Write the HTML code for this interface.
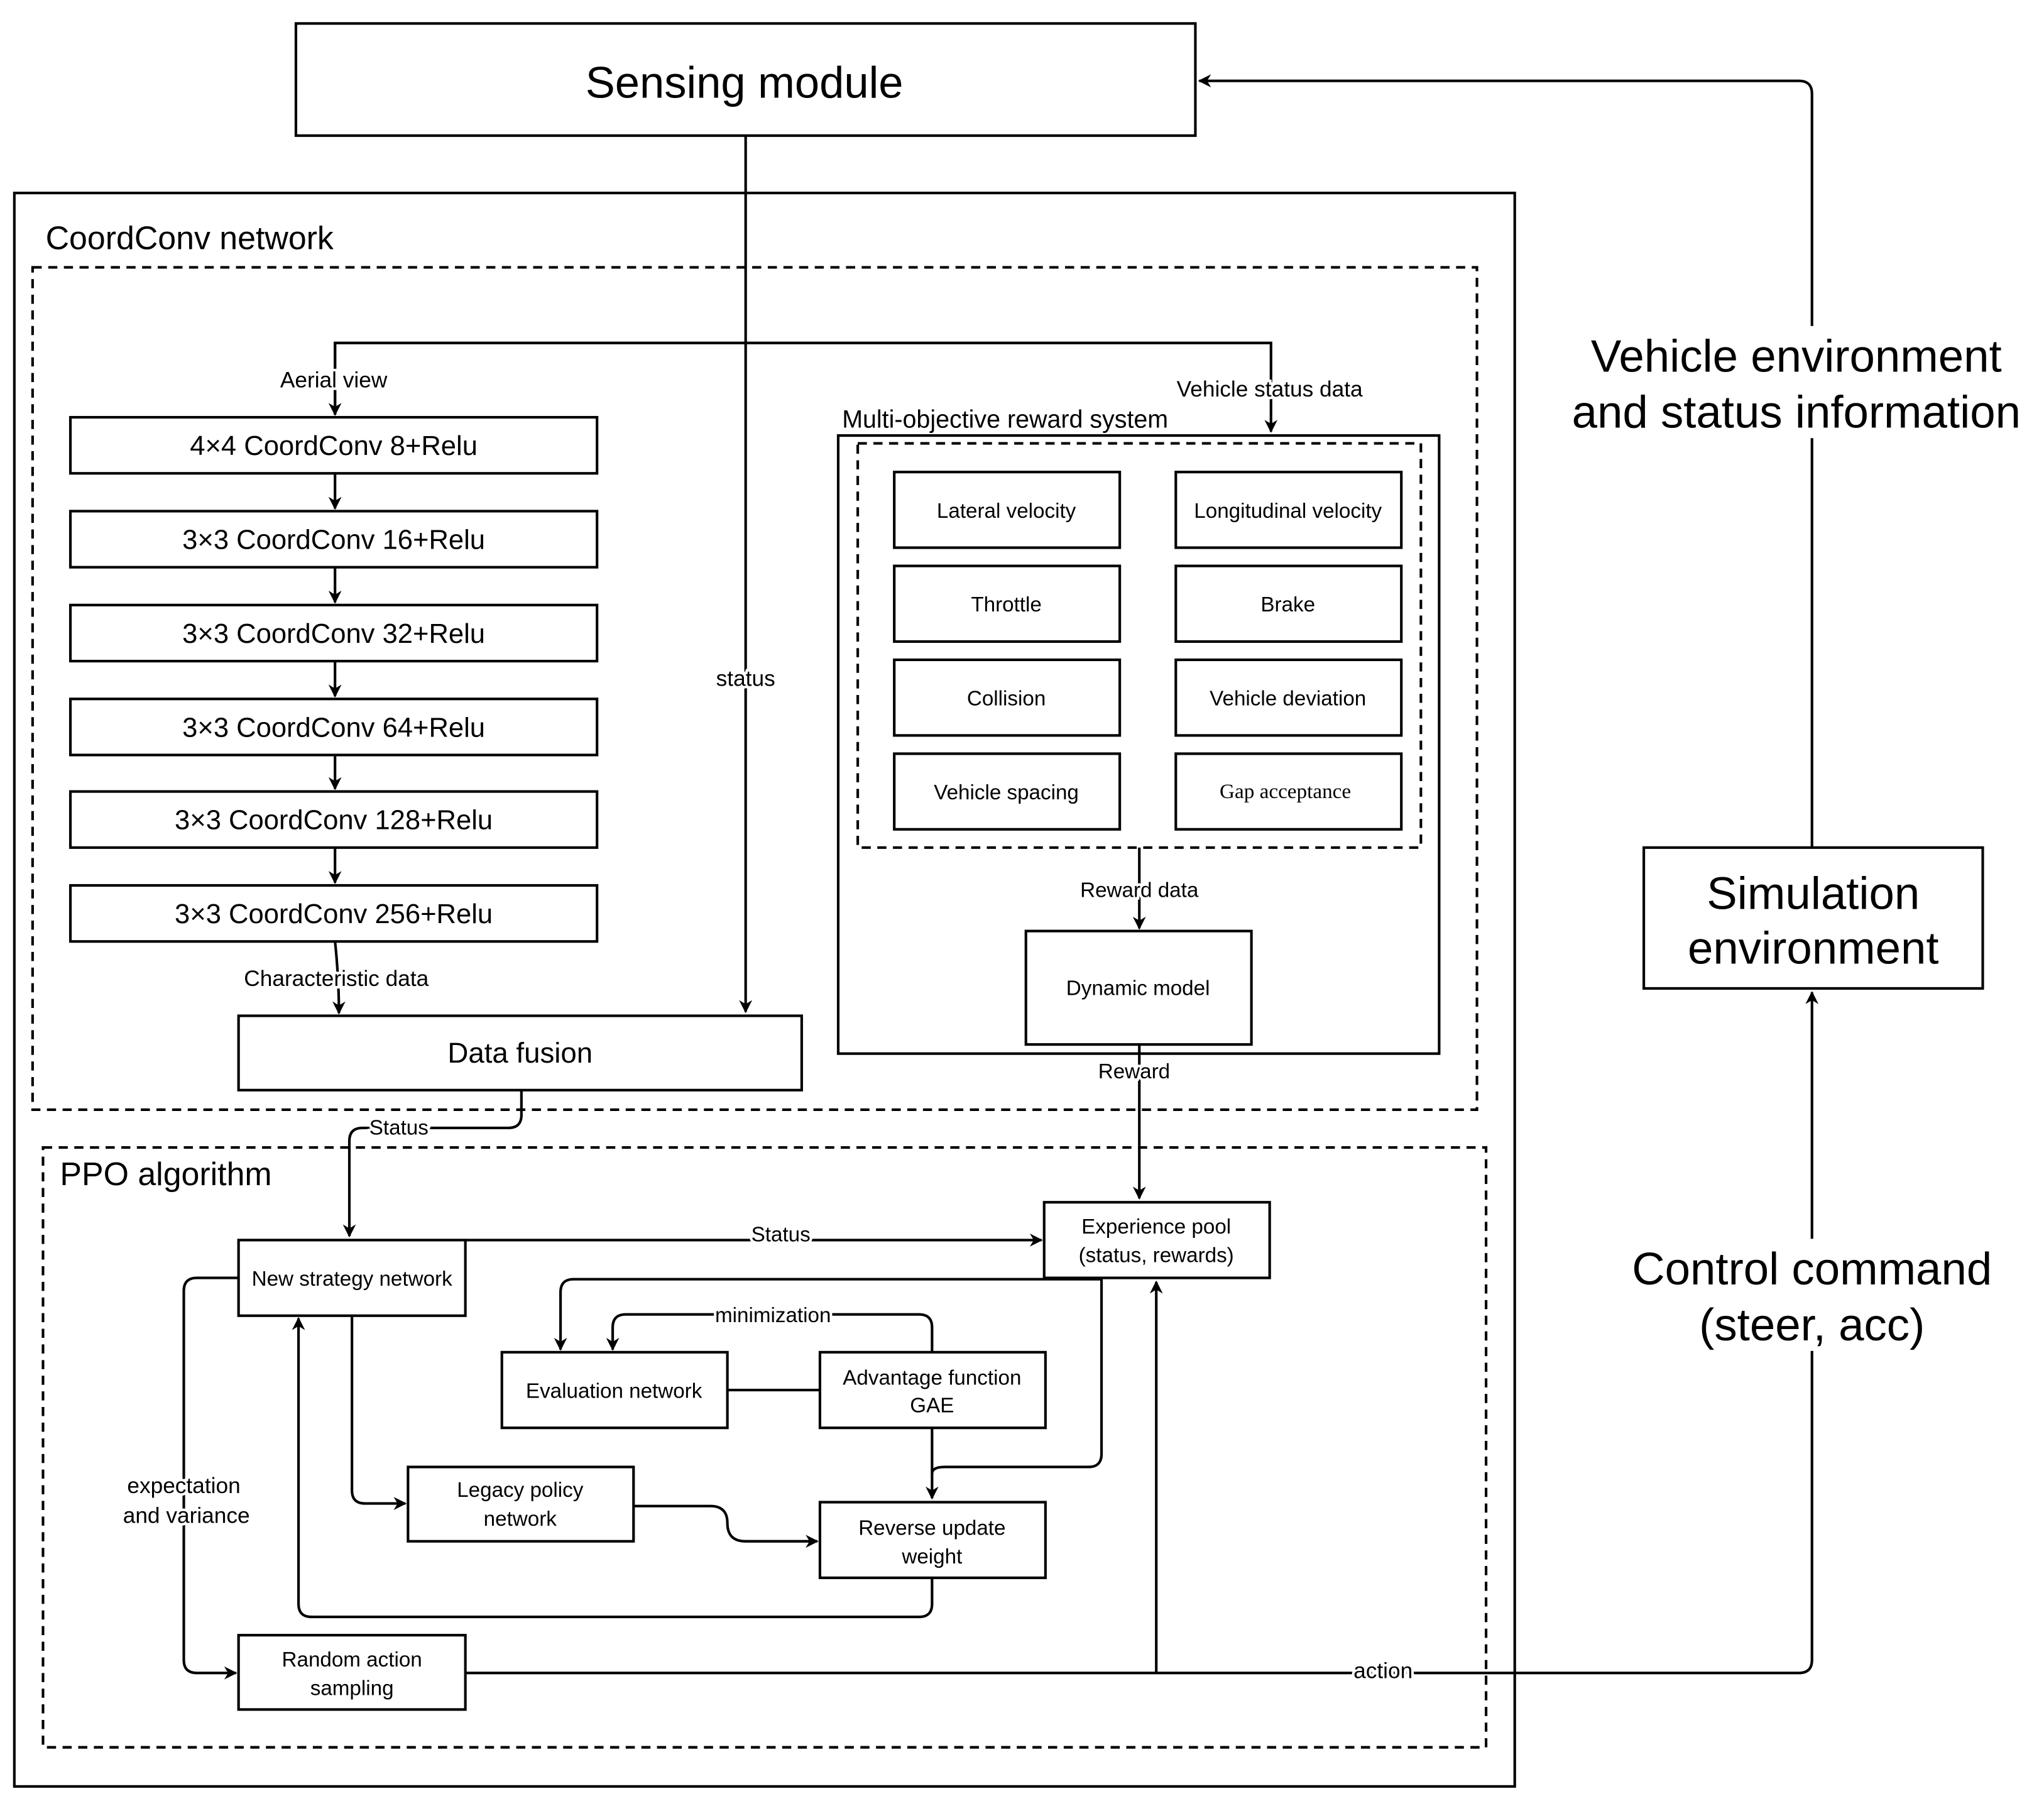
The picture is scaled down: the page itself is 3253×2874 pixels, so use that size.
<!DOCTYPE html>
<html><head><meta charset="utf-8"><style>
html,body{margin:0;padding:0;background:#fff}
svg{display:block}
text{font-family:"Liberation Sans",sans-serif;fill:#000}
.l{paint-order:stroke;stroke:#fff;stroke-width:4px}
</style></head><body>
<svg width="3253" height="2874" viewBox="0 0 1568 1385" preserveAspectRatio="none" xmlns="http://www.w3.org/2000/svg">
<defs><marker id="a" markerWidth="10" markerHeight="10" refX="9" refY="5" orient="auto" markerUnits="userSpaceOnUse"><path d="M0,0 L10,5 L0,10 L3,5 Z" fill="#000"/></marker></defs>
<g fill="none" stroke="#000" stroke-width="2">
<rect x="227" y="18" width="690" height="86"/>
<rect x="11" y="148" width="1151" height="1222"/>
<rect x="25" y="205" width="1108" height="646" stroke-dasharray="7,5"/>
<rect x="33" y="880" width="1107" height="460" stroke-dasharray="7,5"/>
<rect x="54" y="320" width="404" height="43"/>
<rect x="54" y="392" width="404" height="43"/>
<rect x="54" y="464" width="404" height="43"/>
<rect x="54" y="536" width="404" height="43"/>
<rect x="54" y="607" width="404" height="43"/>
<rect x="54" y="679" width="404" height="43"/>
<rect x="183" y="779" width="432" height="57"/>
<rect x="643" y="334" width="461" height="474"/>
<rect x="658" y="340" width="432" height="310" stroke-dasharray="7,5"/>
<rect x="686" y="362" width="173" height="58"/><rect x="902" y="362" width="173" height="58"/>
<rect x="686" y="434" width="173" height="58"/><rect x="902" y="434" width="173" height="58"/>
<rect x="686" y="506" width="173" height="58"/><rect x="902" y="506" width="173" height="58"/>
<rect x="686" y="578" width="173" height="58"/><rect x="902" y="578" width="173" height="58"/>
<rect x="787" y="714" width="173" height="87"/>
<rect x="183" y="951" width="174" height="58"/>
<rect x="801" y="922" width="173" height="58"/>
<rect x="385" y="1037" width="173" height="58"/>
<rect x="629" y="1037" width="173" height="58"/>
<rect x="313" y="1125" width="173" height="57"/>
<rect x="629" y="1152" width="173" height="58"/>
<rect x="183" y="1254" width="174" height="57"/>
<rect x="1261" y="650" width="260" height="108"/>
<path d="M572,104 V776" marker-end="url(#a)"/>
<path d="M257,318 V263 H975 V331" marker-end="url(#a)"/>
<path d="M257,263 V318" marker-end="url(#a)"/>
<path d="M257,363 V390" marker-end="url(#a)"/>
<path d="M257,435 V462" marker-end="url(#a)"/>
<path d="M257,507 V534" marker-end="url(#a)"/>
<path d="M257,579 V605" marker-end="url(#a)"/>
<path d="M257,650 V677" marker-end="url(#a)"/>
<path d="M257,722 Q260,750 260,777" marker-end="url(#a)"/>
<path d="M874,650 V712" marker-end="url(#a)"/>
<path d="M874,801 V919" marker-end="url(#a)"/>
<path d="M400,836 V855 Q400,865 390,865 H278 Q268,865 268,875 V948" marker-end="url(#a)"/>
<path d="M357,951 H799" marker-end="url(#a)"/>
<path d="M845,980 V1115 Q845,1125 835,1125 H725 Q715,1125 715,1130"/>
<path d="M845,981 H440 Q430,981 430,991 V1035" marker-end="url(#a)"/>
<path d="M715,1037 V1018 Q715,1008 705,1008 H480 Q470,1008 470,1018 V1035" marker-end="url(#a)"/>
<path d="M558,1066 H629"/>
<path d="M715,1095 V1149" marker-end="url(#a)"/>
<path d="M270,1009 V1143 Q270,1153 280,1153 H311" marker-end="url(#a)"/>
<path d="M486,1155 H545 Q558,1155 558,1168 Q558,1182 572,1182 H627" marker-end="url(#a)"/>
<path d="M715,1210 V1230 Q715,1240 705,1240 H239 Q229,1240 229,1230 V1011" marker-end="url(#a)"/>
<path d="M183,980 H151 Q141,980 141,990 V1273 Q141,1283 151,1283 H181" marker-end="url(#a)"/>
<path d="M357,1283 H1380 Q1390,1283 1390,1273 V761" marker-end="url(#a)"/>
<path d="M887,1283 V983" marker-end="url(#a)"/>
<path d="M1390,650 V72 Q1390,62 1380,62 H920" marker-end="url(#a)"/>
</g>
<rect x="1205" y="250" width="350" height="86" fill="#fff"/>
<rect x="1250" y="950" width="285" height="86" fill="#fff"/>
<g text-anchor="middle">
<text x="571" y="75" font-size="34">Sensing module</text>
<text x="256" y="349" font-size="21">4×4 CoordConv 8+Relu</text>
<text x="256" y="421" font-size="21">3×3 CoordConv 16+Relu</text>
<text x="256" y="493" font-size="21">3×3 CoordConv 32+Relu</text>
<text x="256" y="565" font-size="21">3×3 CoordConv 64+Relu</text>
<text x="256" y="636" font-size="21">3×3 CoordConv 128+Relu</text>
<text x="256" y="708" font-size="21">3×3 CoordConv 256+Relu</text>
<text x="399" y="815" font-size="22">Data fusion</text>
<text class="l" x="256" y="297" font-size="17">Aerial view</text>
<text class="l" x="974" y="304" font-size="17">Vehicle status data</text>
<text class="l" x="572" y="526" font-size="17">status</text>
<text class="l" x="258" y="756" font-size="17">Characteristic data</text>
<text x="772" y="397" font-size="16">Lateral velocity</text>
<text x="988" y="397" font-size="16">Longitudinal velocity</text>
<text x="772" y="469" font-size="16">Throttle</text>
<text x="988" y="469" font-size="16">Brake</text>
<text x="772" y="541" font-size="16">Collision</text>
<text x="988" y="541" font-size="16">Vehicle deviation</text>
<text x="772" y="613" font-size="16">Vehicle spacing</text>
<text x="986" y="612" font-size="16" style="font-family:'Liberation Serif',serif">Gap acceptance</text>
<text class="l" x="874" y="688" font-size="16">Reward data</text>
<text x="873" y="763" font-size="16">Dynamic model</text>
<text class="l" x="870" y="827" font-size="16">Reward</text>
<text class="l" x="306" y="870" font-size="16">Status</text>
<text class="l" x="599" y="952" font-size="16">Status</text>
<text x="270" y="986" font-size="16">New strategy network</text>
<text x="887" y="946" font-size="16">Experience pool</text>
<text x="887" y="968" font-size="16">(status, rewards)</text>
<text class="l" x="593" y="1014" font-size="16">minimization</text>
<text x="471" y="1072" font-size="16">Evaluation network</text>
<text x="715" y="1062" font-size="16">Advantage function</text>
<text x="715" y="1083" font-size="16">GAE</text>
<text x="399" y="1148" font-size="16">Legacy policy</text>
<text x="399" y="1170" font-size="16">network</text>
<text x="715" y="1177" font-size="16">Reverse update</text>
<text x="715" y="1199" font-size="16">weight</text>
<text class="l" x="141" y="1145" font-size="17">expectation</text>
<text class="l" x="143" y="1168" font-size="17">and variance</text>
<text x="270" y="1278" font-size="16">Random action</text>
<text x="270" y="1300" font-size="16">sampling</text>
<text class="l" x="1061" y="1287" font-size="17">action</text>
<text x="1391" y="697" font-size="35">Simulation</text>
<text x="1391" y="739" font-size="35">environment</text>
<text x="1378" y="285" font-size="35">Vehicle environment</text>
<text x="1378" y="328" font-size="35">and status information</text>
<text x="1390" y="985" font-size="35">Control command</text>
<text x="1390" y="1028" font-size="35">(steer, acc)</text>
</g>
<text x="35" y="191" font-size="25">CoordConv network</text>
<text x="46" y="909" font-size="25">PPO algorithm</text>
<text x="646" y="328" font-size="19">Multi-objective reward system</text>
</svg>
</body></html>
